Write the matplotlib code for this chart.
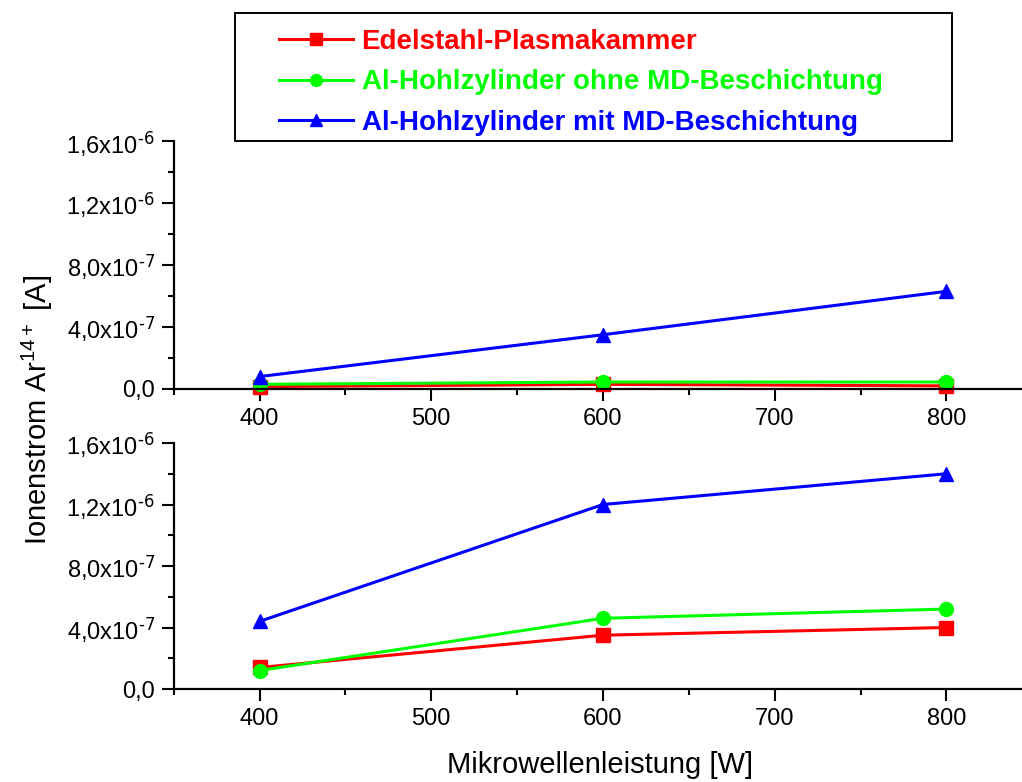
import numpy as np
import matplotlib.pyplot as plt
from matplotlib.patches import Rectangle
from matplotlib.ticker import FixedLocator, MultipleLocator

plt.rcParams['font.family'] = ['Liberation Sans', 'DejaVu Sans']
plt.rcParams['mathtext.default'] = 'regular'

# Data (Mikrowellenleistung in W, Ionenstrom in A)
leistung = [400, 600, 800]

oben_edelstahl = [1.5e-8, 3.0e-8, 2.0e-8]
oben_ohne_md = [3.0e-8, 4.5e-8, 4.5e-8]
oben_mit_md = [8.0e-8, 3.5e-7, 6.3e-7]

unten_edelstahl = [1.4e-7, 3.5e-7, 4.0e-7]
unten_ohne_md = [1.2e-7, 4.6e-7, 5.2e-7]
unten_mit_md = [4.4e-7, 1.2e-6, 1.4e-6]

namen = ['Edelstahl-Plasmakammer',
         'Al-Hohlzylinder ohne MD-Beschichtung',
         'Al-Hohlzylinder mit MD-Beschichtung']
farben = ['#ff0000', '#00ff00', '#0000ff']
marker = ['s', 'o', '^']

ytick_werte = [0, 4e-7, 8e-7, 1.2e-6, 1.6e-6]
ytick_texte = ['0,0', r'$4{,}0x10^{\text{-7}}$', r'$8{,}0x10^{\text{-7}}$',
               r'$1{,}2x10^{\text{-6}}$', r'$1{,}6x10^{\text{-6}}$']


def style_axes(ax):
    ax.set_xlim(350, 850)
    ax.set_ylim(0, 1.6e-6)
    ax.spines['top'].set_visible(False)
    ax.spines['right'].set_visible(False)
    ax.spines['left'].set_linewidth(1.6)
    ax.spines['bottom'].set_linewidth(1.6)
    ax.set_xticks([400, 500, 600, 700, 800])
    ax.xaxis.set_minor_locator(MultipleLocator(50))
    ax.yaxis.set_major_locator(FixedLocator(ytick_werte))
    ax.set_yticklabels(ytick_texte)
    ax.yaxis.set_minor_locator(MultipleLocator(2e-7))
    ax.tick_params(which='major', direction='out', length=8.5, width=1.5,
                   labelsize=17, pad=5)
    ax.tick_params(which='minor', direction='out', length=4.5, width=1.5)


fig = plt.figure(figsize=(10.22, 7.82), dpi=100)
ax1 = fig.add_axes([0.170, 0.5026, 0.840, 0.317])
ax2 = fig.add_axes([0.170, 0.1189, 0.840, 0.3146])

oben = [oben_edelstahl, oben_ohne_md, oben_mit_md]
unten = [unten_edelstahl, unten_ohne_md, unten_mit_md]

handles = []
for i in range(3):
    h, = ax1.plot(leistung, oben[i], color=farben[i], marker=marker[i],
                  markersize=10, linewidth=2.2, label=namen[i], clip_on=False)
    ax2.plot(leistung, unten[i], color=farben[i], marker=marker[i],
             markersize=10, linewidth=2.2, clip_on=False)
    handles.append(h)

style_axes(ax1)
style_axes(ax2)

# legend frame drawn separately
fig.patches.append(Rectangle((235 / 1022, 1 - 141 / 782), (952 - 235) / 1022,
                             (141 - 13) / 782, transform=fig.transFigure,
                             fill=False, edgecolor='black', linewidth=1.4))

leg = fig.legend(handles=handles, labels=namen, loc='upper left',
                 bbox_to_anchor=(279 / 1022, 1 - 29 / 782), frameon=False,
                 handlelength=2.65, handletextpad=0.32, markerscale=0.85,
                 borderpad=0, labelspacing=0.52, borderaxespad=0,
                 prop={'weight': 'bold', 'size': 20})
for txt, c in zip(leg.get_texts(), farben):
    txt.set_color(c)

fig.text(0.037, 0.476, r'Ionenstrom Ar$^{14+}$ [A]', rotation=90,
         ha='center', va='center', fontsize=21)
fig.text(0.587, 0.012, 'Mikrowellenleistung [W]', ha='center',
         va='baseline', fontsize=21)

fig.savefig('out.png', dpi=100)
